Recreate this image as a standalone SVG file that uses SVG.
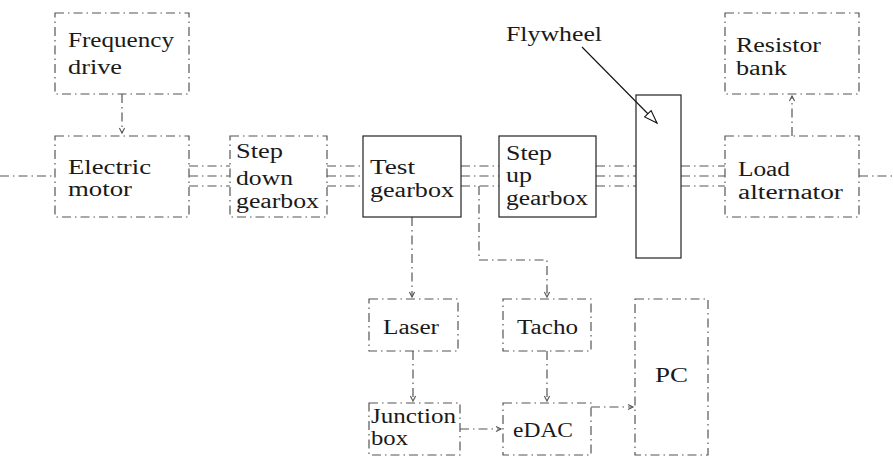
<svg xmlns="http://www.w3.org/2000/svg" width="894" height="457" viewBox="0 0 894 457">
<style>
.dd{fill:none;stroke:#555;stroke-width:1.2;stroke-dasharray:9 4 1.5 4}
.solid{fill:none;stroke:#222;stroke-width:1.2}
</style>
<defs>
<marker id="v" markerUnits="userSpaceOnUse" markerWidth="10" markerHeight="10" viewBox="-6 -5 10 10" refX="0" refY="0" orient="auto">
<path d="M-5,-2.6 L0,0 L-5,2.6" fill="none" stroke="#555" stroke-width="1.1" stroke-dasharray="none"/>
</marker>
<marker id="tri" markerUnits="userSpaceOnUse" markerWidth="16" markerHeight="12" viewBox="0 0 16 12" refX="14" refY="6" orient="auto">
<path d="M1,1.5 L14,6 L1,10.5 Z" fill="#fff" stroke="#111" stroke-width="1.1"/>
</marker>
</defs>
<rect width="894" height="457" fill="#fff"/>

<g id="connectors">
<path class="dd" d="M122,94 V133" marker-end="url(#v)"/>
<path class="dd" d="M0,176 H55"/>
<path class="dd" d="M189,166 H230 M189,176 H230 M189,186 H230"/>
<path class="dd" d="M327,166 H363 M327,176 H363 M327,186 H363"/>
<path class="dd" d="M461,166 H499 M461,176 H499 M461,186 H499"/>
<path class="dd" d="M596,166 H636 M596,176 H636 M596,186 H636"/>
<path class="dd" d="M681,166 H725 M681,176 H725 M681,186 H725"/>
<path class="dd" d="M859,176 H894"/>
<path class="dd" d="M412,217 V297" marker-end="url(#v)"/>
<path class="dd" d="M479,186 V260 H547 V297" marker-end="url(#v)"/>
<path class="dd" d="M413,351 V401" marker-end="url(#v)"/>
<path class="dd" d="M547,351 V401" marker-end="url(#v)"/>
<path class="dd" d="M460,429 H501" marker-end="url(#v)"/>
<path class="dd" d="M591,407 H633" marker-end="url(#v)"/>
<path class="dd" d="M792,136 V96" marker-end="url(#v)"/>
<path d="M582,47 L657,123" fill="none" stroke="#111" stroke-width="1.1" marker-end="url(#tri)"/>
</g>

<g id="freq">
<rect class="dd" x="55" y="13" width="134" height="81"/>
<text font-family="Liberation Serif" font-size="20" fill="#1a1a1a" x="68" y="47" textLength="106" lengthAdjust="spacingAndGlyphs">Frequency</text>
<text font-family="Liberation Serif" font-size="20" fill="#1a1a1a" x="68" y="74" textLength="54" lengthAdjust="spacingAndGlyphs">drive</text>
</g>
<g id="motor">
<rect class="dd" x="55" y="136" width="134" height="81"/>
<text font-family="Liberation Serif" font-size="20" fill="#1a1a1a" x="68" y="174" textLength="83" lengthAdjust="spacingAndGlyphs">Electric</text>
<text font-family="Liberation Serif" font-size="20" fill="#1a1a1a" x="68" y="196" textLength="64" lengthAdjust="spacingAndGlyphs">motor</text>
</g>
<g id="stepdown">
<rect class="dd" x="230" y="136" width="97" height="81"/>
<text font-family="Liberation Serif" font-size="20" fill="#1a1a1a" x="236" y="158" textLength="47" lengthAdjust="spacingAndGlyphs">Step</text>
<text font-family="Liberation Serif" font-size="20" fill="#1a1a1a" x="236" y="185" textLength="57" lengthAdjust="spacingAndGlyphs">down</text>
<text font-family="Liberation Serif" font-size="20" fill="#1a1a1a" x="236" y="208" textLength="83" lengthAdjust="spacingAndGlyphs">gearbox</text>
</g>
<g id="test">
<rect class="solid" x="363" y="136" width="98" height="81"/>
<text font-family="Liberation Serif" font-size="20" fill="#1a1a1a" x="370" y="174" textLength="45" lengthAdjust="spacingAndGlyphs">Test</text>
<text font-family="Liberation Serif" font-size="20" fill="#1a1a1a" x="370" y="197" textLength="84" lengthAdjust="spacingAndGlyphs">gearbox</text>
</g>
<g id="stepup">
<rect class="solid" x="499" y="136" width="97" height="81"/>
<text font-family="Liberation Serif" font-size="20" fill="#1a1a1a" x="506" y="160" textLength="46" lengthAdjust="spacingAndGlyphs">Step</text>
<text font-family="Liberation Serif" font-size="20" fill="#1a1a1a" x="506" y="182" textLength="26" lengthAdjust="spacingAndGlyphs">up</text>
<text font-family="Liberation Serif" font-size="20" fill="#1a1a1a" x="506" y="205" textLength="82" lengthAdjust="spacingAndGlyphs">gearbox</text>
</g>
<g id="flywheel">
<rect class="solid" x="636" y="95" width="45" height="163"/>
<text font-family="Liberation Serif" font-size="20" fill="#1a1a1a" x="506" y="41" textLength="96" lengthAdjust="spacingAndGlyphs">Flywheel</text>
</g>
<g id="resistor">
<rect class="dd" x="725" y="13" width="134" height="81"/>
<text font-family="Liberation Serif" font-size="20" fill="#1a1a1a" x="736" y="52" textLength="85" lengthAdjust="spacingAndGlyphs">Resistor</text>
<text font-family="Liberation Serif" font-size="20" fill="#1a1a1a" x="736" y="75" textLength="51" lengthAdjust="spacingAndGlyphs">bank</text>
</g>
<g id="load">
<rect class="dd" x="725" y="136" width="134" height="81"/>
<text font-family="Liberation Serif" font-size="20" fill="#1a1a1a" x="738" y="176" textLength="52" lengthAdjust="spacingAndGlyphs">Load</text>
<text font-family="Liberation Serif" font-size="20" fill="#1a1a1a" x="738" y="199" textLength="105" lengthAdjust="spacingAndGlyphs">alternator</text>
</g>
<g id="laser">
<rect class="dd" x="369" y="299" width="89" height="52"/>
<text font-family="Liberation Serif" font-size="20" fill="#1a1a1a" x="383" y="334" textLength="56" lengthAdjust="spacingAndGlyphs">Laser</text>
</g>
<g id="tacho">
<rect class="dd" x="503" y="299" width="88" height="52"/>
<text font-family="Liberation Serif" font-size="20" fill="#1a1a1a" x="517" y="334" textLength="61" lengthAdjust="spacingAndGlyphs">Tacho</text>
</g>
<g id="pc">
<rect class="dd" x="635" y="299" width="73" height="156"/>
<text font-family="Liberation Serif" font-size="20" fill="#1a1a1a" x="655" y="382" textLength="33" lengthAdjust="spacingAndGlyphs">PC</text>
</g>
<g id="junction">
<rect class="dd" x="369" y="403" width="91" height="52"/>
<text font-family="Liberation Serif" font-size="20" fill="#1a1a1a" x="371" y="423" textLength="85" lengthAdjust="spacingAndGlyphs">Junction</text>
<text font-family="Liberation Serif" font-size="20" fill="#1a1a1a" x="371" y="445" textLength="37" lengthAdjust="spacingAndGlyphs">box</text>
</g>
<g id="edac">
<rect class="dd" x="503" y="403" width="88" height="52"/>
<text font-family="Liberation Serif" font-size="20" fill="#1a1a1a" x="513" y="437" textLength="60" lengthAdjust="spacingAndGlyphs">eDAC</text>
</g>
</svg>
